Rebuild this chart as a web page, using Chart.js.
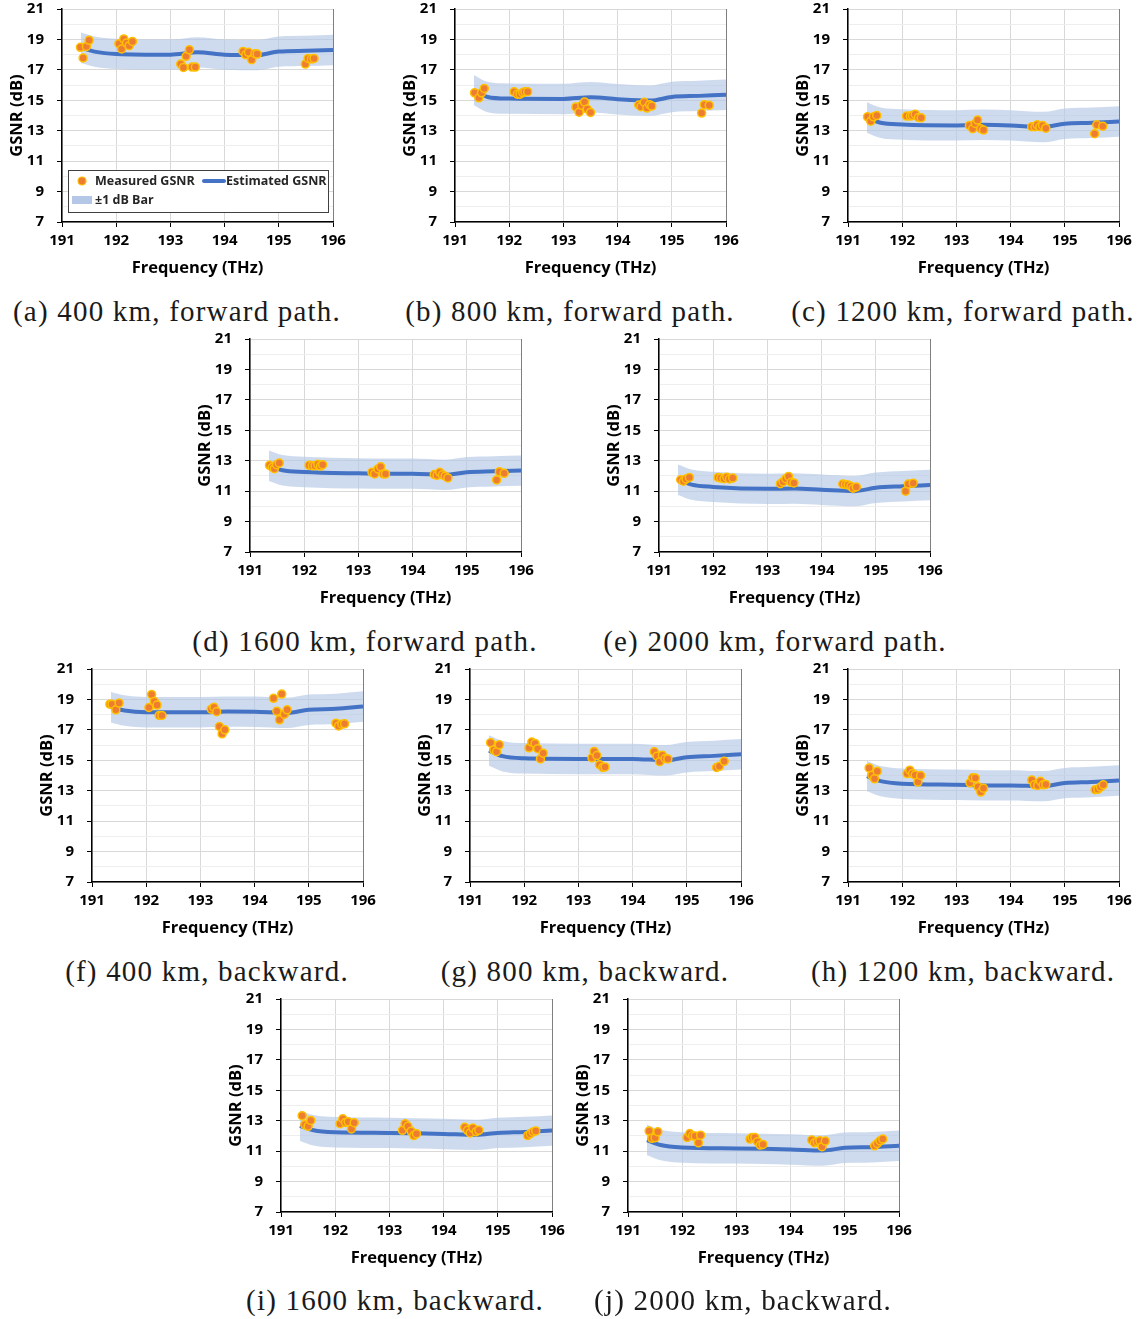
<!DOCTYPE html>
<html>
<head>
<meta charset="utf-8">
<script src="https://cdn.jsdelivr.net/npm/chart.js@4"></script>
<style>
  body { margin: 0; background: #fff; width: 1140px; height: 1319px; position: relative; overflow: hidden; }
  canvas { position: absolute; }
  .cap { position: absolute; font-family: "Liberation Serif", serif; font-size: 29px; color: #1a1a1a;
         white-space: nowrap; transform: translate(-50%, -50%); letter-spacing: 1.2px; }
</style>
</head>
<body>
<script>
// legend texts and captions
const legendLabels = ['Measured GSNR', 'Estimated GSNR', '\u00b11 dB Bar'];
const captions = [
  '(a) 400 km, forward path.', '(b) 800 km, forward path.', '(c) 1200 km, forward path.',
  '(d) 1600 km, forward path.', '(e) 2000 km, forward path.',
  '(f) 400 km, backward.', '(g) 800 km, backward.', '(h) 1200 km, backward.',
  '(i) 1600 km, backward.', '(j) 2000 km, backward.'
];
const bandHalf = 1; // the "±1 dB" bar

// frequency grid of the estimated curve (THz)
const estFreq = [191.35, 191.6, 192, 193, 193.5, 194, 194.6, 195, 195.5, 196];
const estA = [18.45, 18.2, 18.05, 18.0, 18.15, 18.0, 17.97, 18.2, 18.25, 18.3];
const estB = [15.67, 15.22, 15.11, 15.09, 15.2, 15.07, 14.98, 15.22, 15.29, 15.36];
const estC = [13.87, 13.52, 13.41, 13.35, 13.39, 13.35, 13.24, 13.46, 13.52, 13.61];
const estD = [12.67, 12.37, 12.26, 12.17, 12.15, 12.15, 12.07, 12.24, 12.3, 12.35];
const estE = [11.75, 11.43, 11.28, 11.15, 11.17, 11.09, 11.0, 11.22, 11.32, 11.4];
const estF = [18.49, 18.27, 18.16, 18.16, 18.2, 18.19, 18.12, 18.32, 18.38, 18.54];
const estG = [15.64, 15.27, 15.13, 15.09, 15.09, 15.09, 15.0, 15.2, 15.29, 15.4];
const estH = [13.96, 13.63, 13.46, 13.39, 13.35, 13.35, 13.3, 13.5, 13.57, 13.67];
const estI = [12.67, 12.37, 12.24, 12.2, 12.17, 12.13, 12.07, 12.2, 12.26, 12.35];
const estJ = [11.73, 11.4, 11.24, 11.18, 11.15, 11.11, 11.04, 11.22, 11.26, 11.35];

// measured points: frequency (THz) and GSNR (dB)
const measFreqA = [191.34,191.39,191.45,191.50, 192.05,192.10,192.14,192.19,192.24,192.30, 193.19,193.24,193.29,193.35,193.40,193.46, 194.34,194.39,194.44,194.50,194.56,194.60, 195.49,195.54,195.60,195.65];
const measA     = [18.48,17.78,18.54,18.94, 18.72,18.37,19.03,18.76,18.59,18.87, 17.38,17.16,17.89,18.32,17.18,17.18, 18.21,17.99,18.15,17.67,18.06,18.04, 17.38,17.75,17.71,17.75];
const measFreqB = [191.36,191.44,191.49,191.54, 192.09,192.15,192.20,192.25,192.29,192.34, 193.23,193.29,193.34,193.39,193.44,193.50, 194.39,194.43,194.49,194.54,194.59,194.63, 195.55,195.60,195.69];
const measB     = [15.49,15.16,15.49,15.78, 15.56,15.40,15.40,15.51,15.56,15.56, 14.56,14.22,14.67,14.89,14.42,14.20, 14.69,14.58,14.87,14.49,14.71,14.62, 14.16,14.71,14.67];
const measFreqC = [191.36,191.42,191.47,191.53, 192.08,192.15,192.19,192.24,192.30,192.35, 193.24,193.30,193.35,193.39,193.45,193.50, 194.39,194.45,194.49,194.54,194.59,194.65, 195.55,195.59,195.70];
const measC     = [13.91,13.63,13.91,14.00, 13.96,13.96,14.00,14.09,13.87,13.85, 13.35,13.13,13.48,13.70,13.13,13.04, 13.26,13.26,13.39,13.26,13.35,13.17, 12.80,13.39,13.30];
const measFreqD = [191.36,191.41,191.45,191.49,191.54, 192.09,192.15,192.20,192.25,192.30,192.34, 193.25,193.30,193.36,193.41,193.46,193.50, 194.40,194.45,194.50,194.55,194.60,194.65, 195.55,195.60,195.69];
const measD     = [12.70,12.57,12.48,12.74,12.85, 12.70,12.67,12.67,12.76,12.65,12.74, 12.24,12.13,12.46,12.61,12.13,12.13, 12.09,12.04,12.24,12.07,11.98,11.87, 11.74,12.28,12.17];
const measFreqE = [191.40,191.45,191.50,191.56, 192.09,192.14,192.20,192.25,192.30,192.36, 193.24,193.29,193.34,193.39,193.44,193.49, 194.39,194.44,194.49,194.54,194.58,194.64, 195.55,195.60,195.69];
const measE     = [11.75,11.65,11.80,11.90, 11.90,11.86,11.82,11.92,11.80,11.86, 11.49,11.62,11.82,11.97,11.58,11.54, 11.47,11.43,11.41,11.32,11.19,11.28, 11.00,11.47,11.52];
const measFreqF = [191.33,191.37,191.44,191.50, 192.05,192.10,192.15,192.20,192.24,192.29, 193.20,193.25,193.30,193.35,193.40,193.45, 194.35,194.41,194.46,194.50,194.55,194.60, 195.50,195.55,195.61,195.66];
const measF     = [18.69,18.69,18.32,18.76, 18.47,19.33,18.87,18.63,17.95,17.95, 18.36,18.49,18.19,17.22,16.74,17.00, 19.07,18.23,17.66,19.35,18.03,18.32, 17.44,17.26,17.37,17.40];
const measFreqG = [191.38,191.44,191.49,191.54, 192.09,192.14,192.20,192.25,192.30,192.35, 193.25,193.29,193.34,193.39,193.45,193.49, 194.40,194.45,194.50,194.55,194.60,194.65, 195.55,195.60,195.69];
const measG     = [16.16,15.67,15.56,16.02, 15.82,16.20,16.11,15.76,15.09,15.47, 15.16,15.58,15.31,14.71,14.53,14.56, 15.56,15.27,14.91,15.33,15.11,15.09, 14.53,14.60,14.93];
const measFreqH = [191.39,191.44,191.49,191.54, 192.09,192.14,192.19,192.24,192.29,192.34, 193.25,193.30,193.35,193.40,193.45,193.50, 194.39,194.44,194.50,194.55,194.60,194.65, 195.56,195.61,195.66,195.71];
const measH     = [14.50,14.02,13.78,14.28, 14.13,14.35,14.13,14.04,13.57,14.00, 13.52,13.85,13.83,13.26,12.91,13.17, 13.70,13.39,13.35,13.63,13.39,13.41, 13.07,13.09,13.24,13.39];
const measFreqI = [191.39,191.44,191.50,191.55, 192.09,192.14,192.19,192.24,192.30,192.35, 193.24,193.29,193.34,193.40,193.45,193.50, 194.39,194.44,194.49,194.54,194.60,194.65, 195.55,195.60,195.65,195.70];
const measI     = [13.33,12.74,12.63,13.02, 12.80,13.13,12.89,12.93,12.46,12.87, 12.37,12.80,12.63,12.30,12.02,12.15, 12.57,12.37,12.20,12.52,12.28,12.37, 12.02,12.15,12.26,12.33];
const measFreqJ = [191.39,191.44,191.50,191.55, 192.09,192.14,192.19,192.24,192.30,192.34, 193.25,193.29,193.34,193.39,193.44,193.49, 194.39,194.44,194.49,194.54,194.58,194.64, 195.55,195.60,195.65,195.70];
const measJ     = [12.32,11.84,11.88,12.27, 11.90,12.16,12.01,11.99,11.55,12.05, 11.79,11.90,11.90,11.62,11.40,11.44, 11.73,11.55,11.62,11.68,11.29,11.66, 11.35,11.51,11.68,11.79];

// where each panel sits on the page (plot area top-left, caption centre)
const panels = [
  { est: estA, mf: measFreqA, mg: measA, left: 62,  top: 9,   capX: 177, capY: 311, legend: true },
  { est: estB, mf: measFreqB, mg: measB, left: 455, top: 9,   capX: 570, capY: 311 },
  { est: estC, mf: measFreqC, mg: measC, left: 848, top: 9,   capX: 963, capY: 311 },
  { est: estD, mf: measFreqD, mg: measD, left: 250, top: 339, capX: 365, capY: 641 },
  { est: estE, mf: measFreqE, mg: measE, left: 659, top: 339, capX: 775, capY: 641 },
  { est: estF, mf: measFreqF, mg: measF, left: 92,  top: 669, capX: 207, capY: 971 },
  { est: estG, mf: measFreqG, mg: measG, left: 470, top: 669, capX: 585, capY: 971 },
  { est: estH, mf: measFreqH, mg: measH, left: 848, top: 669, capX: 963, capY: 971 },
  { est: estI, mf: measFreqI, mg: measI, left: 281, top: 999, capX: 395, capY: 1300 },
  { est: estJ, mf: measFreqJ, mg: measJ, left: 628, top: 999, capX: 743, capY: 1300 }
];

const ORANGE = '#ED7D31', GOLD = '#FFC000', BLUE = '#4472C4', BAND = 'rgba(180,199,231,0.65)';
// y-axis width, x-axis height, top/right padding, plot size
const YW = 56, XH = 56, PT = 24, PR = 22, PW = 271, PH = 213;

Chart.defaults.font.family = 'Open Sans';
Chart.defaults.color = '#000';

// legend drawn inside the plot of panel (a)
const legendBox = {
  id: 'legendBox',
  afterDraw(chart, args, opts) {
    if (!opts.show) return;
    const ctx = chart.ctx, a = chart.chartArea;
    const x0 = a.left + 6, y0 = a.top + 161;
    ctx.save();
    ctx.fillStyle = '#fff';
    ctx.fillRect(x0, y0, 260, 42);
    ctx.strokeStyle = '#404040';
    ctx.lineWidth = 1;
    ctx.strokeRect(x0 + 0.5, y0 + 0.5, 260, 42);
    ctx.font = 'bold 12.5px "Open Sans"';
    ctx.textBaseline = 'middle';
    // measured
    ctx.beginPath();
    ctx.arc(x0 + 14, y0 + 11, 4, 0, Math.PI * 2);
    ctx.fillStyle = ORANGE; ctx.fill();
    ctx.strokeStyle = GOLD; ctx.lineWidth = 1.2; ctx.stroke();
    ctx.fillStyle = '#262626';
    ctx.fillText(legendLabels[0], x0 + 27, y0 + 11);
    // estimated
    ctx.beginPath();
    ctx.moveTo(x0 + 136, y0 + 11); ctx.lineTo(x0 + 156, y0 + 11);
    ctx.strokeStyle = BLUE; ctx.lineWidth = 4; ctx.lineCap = 'round'; ctx.stroke();
    ctx.fillText(legendLabels[1], x0 + 158, y0 + 11);
    // band
    ctx.fillStyle = 'rgb(180,199,231)';
    ctx.fillRect(x0 + 4, y0 + 26, 20, 8);
    ctx.fillStyle = '#262626';
    ctx.fillText(legendLabels[2], x0 + 27, y0 + 30);
    ctx.restore();
  }
};

const tickFont = { family: 'Open Sans', size: 15, weight: 'bold' };
const titleFont = { family: 'Open Sans', size: 16.5, weight: 'bold' };

panels.forEach(function (p, i) {
  const cv = document.createElement('canvas');
  cv.width = YW + PW + PR;
  cv.height = PT + PH + XH;
  cv.style.left = (p.left - YW) + 'px';
  cv.style.top = (p.top - PT) + 'px';
  document.body.appendChild(cv);

  const cap = document.createElement('div');
  cap.className = 'cap';
  cap.textContent = captions[i];
  cap.style.left = p.capX + 'px';
  cap.style.top = p.capY + 'px';
  document.body.appendChild(cap);

  const meas = p.mf.map((f, k) => ({ x: f, y: p.mg[k] }));
  const est = estFreq.map((f, k) => ({ x: f, y: p.est[k] }));
  const upper = estFreq.map((f, k) => ({ x: f, y: p.est[k] + bandHalf }));
  const lower = estFreq.map((f, k) => ({ x: f, y: p.est[k] - bandHalf }));

  new Chart(cv, {
    type: 'scatter',
    data: {
      datasets: [
        { label: legendLabels[0], data: meas, pointRadius: 4, pointBorderWidth: 1.5,
          backgroundColor: ORANGE, borderColor: GOLD, order: 0 },
        { label: legendLabels[1], type: 'line', data: est, borderColor: BLUE, borderWidth: 4,
          pointRadius: 0, cubicInterpolationMode: 'monotone', fill: false, order: 1 },
        { label: legendLabels[2], type: 'line', data: upper, borderWidth: 0, pointRadius: 0,
          backgroundColor: BAND, fill: '+1', cubicInterpolationMode: 'monotone', order: 2 },
        { label: 'lower', type: 'line', data: lower, borderWidth: 0, pointRadius: 0,
          fill: false, cubicInterpolationMode: 'monotone', order: 3 }
      ]
    },
    options: {
      responsive: false,
      animation: false,
      devicePixelRatio: 1,
      layout: { padding: { left: 0, top: PT, right: PR, bottom: 0 } },
      plugins: {
        legend: { display: false },
        tooltip: { enabled: false },
        legendBox: { show: !!p.legend }
      },
      scales: {
        x: {
          type: 'linear', min: 191, max: 196,
          ticks: { stepSize: 1, font: tickFont, color: '#000', padding: 5, maxRotation: 0 },
          grid: { color: c => (c.tick && c.tick.value === 196) ? '#7f7f7f' : '#d9d9d9',
                  tickColor: '#000', tickLength: 5 },
          border: { color: '#000', width: 1.5 },
          title: { display: true, text: 'Frequency (THz)', font: titleFont, color: '#000', padding: 0 },
          afterFit: s => { s.height = XH; }
        },
        y: {
          min: 7, max: 21,
          ticks: { stepSize: 1, autoSkip: false, font: tickFont, color: '#000', padding: 13,
                   callback: v => (v % 2 === 1 ? v : '') },
          grid: { color: c => (c.tick && c.tick.value % 2 === 1) ? '#d9d9d9' : '#eeeeee',
                  tickColor: c => (c.tick && c.tick.value % 2 === 1) ? '#000' : 'rgba(0,0,0,0)',
                  tickLength: 5 },
          border: { color: '#000', width: 1.5 },
          title: { display: true, text: 'GSNR (dB)', font: titleFont, color: '#000', padding: { top: 1, bottom: 0 } },
          afterFit: s => { s.width = YW; }
        }
      }
    },
    plugins: [legendBox]
  });
});
</script>
</body>
</html>
